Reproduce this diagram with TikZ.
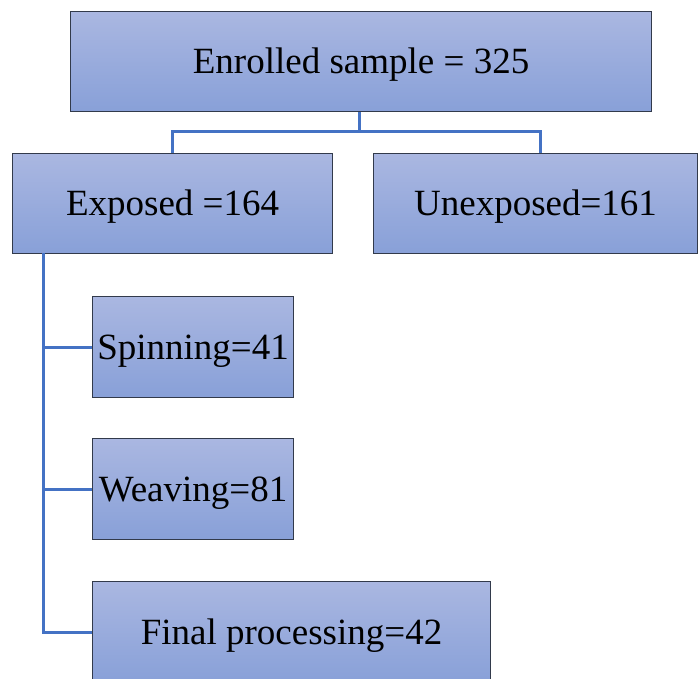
\documentclass[tikz,border=0pt]{standalone}
\usepackage{fontspec}
\setmainfont{Liberation Serif}
\definecolor{boxtop}{RGB}{170,183,225}
\definecolor{boxbot}{RGB}{136,160,216}
\definecolor{boxedge}{RGB}{50,58,75}
\definecolor{linkblue}{RGB}{68,114,196}
\begin{document}
\begin{tikzpicture}[x=1pt,y=-1pt,
  box/.style={rectangle, draw=boxedge, line width=1.1pt, top color=boxtop, bottom color=boxbot,
    inner sep=0pt, font=\fontsize{37}{44}\selectfont, text=black, anchor=north west,
    text height=32pt, text depth=8pt},
  link/.style={draw=linkblue, line width=3pt}]
\useasboundingbox (0,0) rectangle (698,679);
\begin{scope}
\clip (0,0) rectangle (698,679);
\node[box, minimum width=581pt, minimum height=100pt] (enr) at (70,11) {Enrolled sample = 325};
\node[box, minimum width=320pt, minimum height=100pt] (exp) at (12,153) {Exposed =164};
\node[box, minimum width=324pt, minimum height=100pt] (unexp) at (373,153) {Unexposed=161};
\node[box, minimum width=201pt, minimum height=101pt] (spin) at (92,296) {Spinning=41};
\node[box, minimum width=201pt, minimum height=101pt] (weav) at (92,438) {Weaving=81};
\node[box, minimum width=398pt, minimum height=101pt] (fin) at (92,581) {Final processing=42};
\end{scope}
\coordinate (jn) at (359,132);
\coordinate (ex) at (43,253);
\draw[link] (enr.south -| jn) -- (jn);
\draw[link] (exp.north) |- (jn) -| (540,153) coordinate (ut);
\draw[link] (ex) |- (fin.west);
\draw[link] (ex |- spin.west) -- (spin.west);
\draw[link] (ex |- weav.west) -- (weav.west);
\end{tikzpicture}
\end{document}
